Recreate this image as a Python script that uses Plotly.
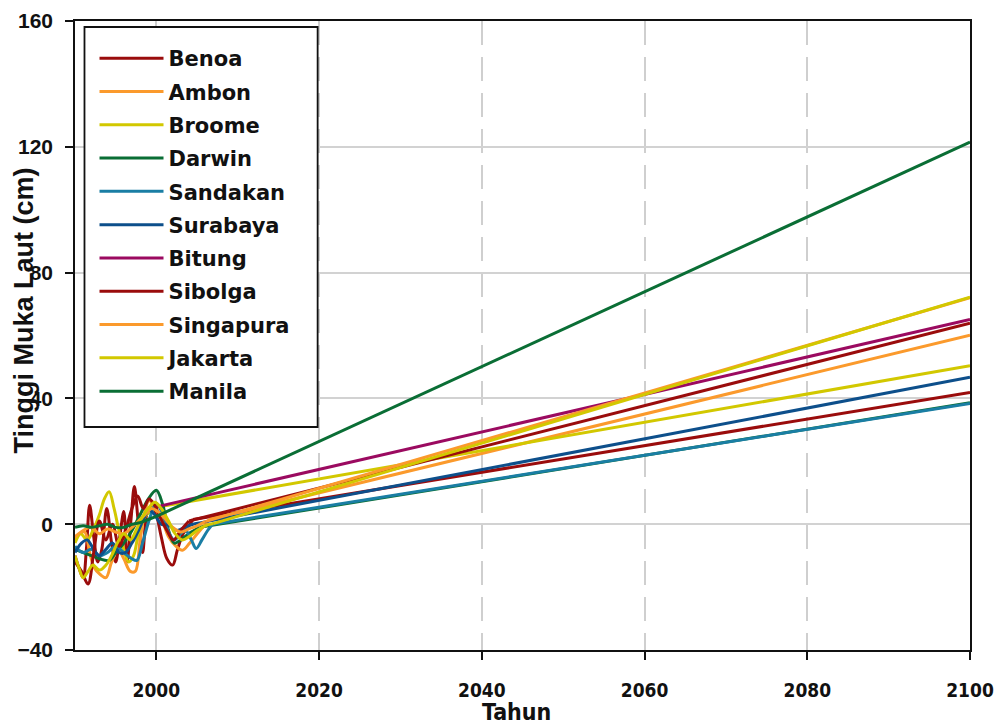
import plotly.graph_objects as go

# Stations, in legend order
stations = ["Benoa", "Ambon", "Broome", "Darwin", "Sandakan", "Surabaya",
            "Bitung", "Sibolga", "Singapura", "Jakarta", "Manila"]
colors = ["#9a0c0c", "#fb9a2c", "#d2c800", "#0a6e35", "#1a7ea4", "#0d4f8b",
          "#9b0a60", "#9a0c0c", "#fb9a2c", "#d2c800", "#0a6e35"]

# Observed sea level anomalies (cm)
benoa_years = [1990.0, 1990.5, 1991.0, 1991.4, 1991.8, 1992.3, 1992.8, 1993.3, 1993.9, 1994.5,
               1995.0, 1995.5, 1996.0, 1996.4, 1996.9, 1997.3, 1997.8, 1998.3, 1998.9, 1999.5,
               2000.0, 2000.6, 2001.3, 2002.0, 2002.6, 2003.3, 2004.0, 2004.5]
benoa_vals = [-10, -14, -17, -8, 6, -4, -12, -8, 5, -6, -12, -4, 4, -12, 2, 12, 0, -9, 4, 6,
              3, -4, -11, -13, -8, -3, -0.5, 1.5]

ambon_years = [1990.0, 1990.6, 1991.2, 1991.8, 1992.4, 1993.1, 1993.8, 1994.5, 1995.3, 1996.0,
               1996.8, 1997.4, 1998.0, 1998.6, 1999.1, 1999.8, 2000.6, 2001.5, 2002.4, 2003.2,
               2004.1, 2005.2, 2006.5]
ambon_vals = [-5, -3, -2.5, -9, -14, -16, -17, -12, -8, -11, -15, -15, -5, 4, 7.5, 5, 2, -4,
              -7, -8.3, -6, -2.5, 1.5]

broome_years = [1990.0, 1990.7, 1991.5, 1992.2, 1993.0, 1993.6, 1994.2, 1994.8, 1995.4, 1996.0,
                1996.6, 1997.2, 1997.8, 1998.5, 1999.2, 2000.0]
broome_vals = [-6, -3, -5, -2, 3, 8, 10.3, 5, -2, -8, -12, -10, -3, 2, 4, 5.4]

darwin_years = [1990.0, 1991.0, 1992.0, 1993.0, 1994.2, 1995.0, 1996.0, 1997.0, 1998.0, 1999.0,
                2000.0, 2000.8, 2001.5, 2002.2, 2003.0, 2004.0, 2005.3]
darwin_vals = [-8, -9, -10, -11, -11.5, -9, -6, -2, 3, 8, 10.8, 6, -2, -6, -5, -3, -1]

sandakan_years = [1990.0, 1991.0, 1992.0, 1993.0, 1994.0, 1995.0, 1996.0, 1997.0, 1997.6, 1998.3,
                  1999.2, 2000.0, 2000.8, 2001.6, 2002.2, 2003.0, 2003.6, 2004.3, 2004.9, 2005.6,
                  2006.3, 2006.9]
sandakan_vals = [-7, -9, -8, -10, -9, -7, -9, -11, -11.5, -6, 2, 6.7, 3, -3, -5, -3, -2, -5,
                 -7.7, -5, -2, 0]

surabaya_years = [1990.0, 1990.8, 1991.5, 1992.3, 1993.0, 1993.8, 1994.6, 1995.4, 1996.2, 1997.0,
                  1997.8, 1998.5, 1999.1, 1999.8, 2000.6, 2001.5, 2002.5, 2003.5, 2004.5, 2005.5]
surabaya_vals = [-9, -6, -5, -8, -10, -8, -6, -9, -9, -6, -2, 2, 4.5, 3, 0, -0.3, -2, -1, 0, 0.5]

bitung_years = [2000.0]
bitung_vals = [5.5]

sibolga_years = [1990.0, 1990.8, 1991.6, 1992.3, 1993.0, 1993.8, 1994.6, 1995.4, 1996.2, 1997.0,
                 1997.7, 1998.4, 1999.1, 1999.8, 2000.5, 2001.3, 2002.1, 2003.0, 2004.0]
sibolga_vals = [-12, -15, -19, -9, 1, -5, 0, -7, -2, 5, 9, 5, 8, 6, 2, -2, -5, -2, 1.0]

singapura_years = [1990.0, 1991.0, 1992.0, 1993.0, 1994.0, 1995.0, 1996.0, 1997.0, 1997.8, 1998.6,
                   1999.4, 2000.2, 2001.0, 2002.0, 2003.0, 2004.0, 2005.0, 2006.0]
singapura_vals = [-4, -2, -1, -3, -1.5, -2.5, -3, -1, 1, 3, 5, 4, 2, -1, -2.5, -1.5, -0.5, 0.8]

jakarta_years = [1990.0, 1990.5, 1991.0, 1991.6, 1992.2, 1993.0, 1993.8, 1994.5, 1995.2, 1996.0,
                 1996.8, 1997.5, 1998.2, 1999.0, 1999.8, 2000.6, 2001.5, 2002.3, 2003.2, 2004.0,
                 2005.0, 2006.0, 2007.0]
jakarta_vals = [-10, -14, -17, -15, -13, -14.6, -13, -10, -6, -3, -5, -2, 2, 5, 7, 5, 1, -3, -5,
                -4, -2, -0.5, 0.2]

manila_years = [1990, 1991, 1992, 1993, 1994, 1995, 1996, 1997, 1998, 1999, 2000]
manila_vals = [-1, -0.5, -1, -0.5, 0, -1, -1, 0, 0.5, 1.5, 2.5]

hist_years = [benoa_years, ambon_years, broome_years, darwin_years, sandakan_years,
              surabaya_years, bitung_years, sibolga_years, singapura_years, jakarta_years,
              manila_years]
hist_vals = [benoa_vals, ambon_vals, broome_vals, darwin_vals, sandakan_vals, surabaya_vals,
             bitung_vals, sibolga_vals, singapura_vals, jakarta_vals, manila_vals]

# Projected level in 2100 (cm)
proj_year = 2100
proj_2100 = [41.9, 60.1, 50.4, 38.6, 38.4, 46.7, 65.1, 63.9, 72.0, 72.2, 121.5]

x_ticks = [2000, 2020, 2040, 2060, 2080, 2100]
y_ticks = [-40, 0, 40, 80, 120, 160]

fig = go.Figure()
for name, col, xs, ys, end in zip(stations, colors, hist_years, hist_vals, proj_2100):
    if len(xs) > 1:
        fig.add_trace(go.Scatter(
            x=xs, y=ys, mode="lines", name=name, legendgroup=name, showlegend=False,
            line=dict(color=col, width=3, shape="spline", smoothing=1.0),
            hoverinfo="skip"))
    fig.add_trace(go.Scatter(
        x=[xs[-1], proj_year], y=[ys[-1], end], mode="lines", name=name,
        legendgroup=name, showlegend=True,
        line=dict(color=col, width=3)))

tick_font = dict(family="Liberation Sans, Arial", size=21, color="#111", weight="bold")
narrow_font = dict(family="Liberation Sans Narrow, DejaVu Sans Condensed, Liberation Sans",
                   size=19, color="#111", weight="bold")

fig.update_layout(
    width=998, height=725,
    margin=dict(l=75, r=28, t=21, b=75),
    paper_bgcolor="white", plot_bgcolor="white",
    showlegend=True,
    legend=dict(
        x=0.0218, y=0.973, xanchor="left", yanchor="top",
        bgcolor="rgba(0,0,0,0)", borderwidth=0,
        font=dict(family="DejaVu Sans", size=21, color="#111", weight="bold"),
        traceorder="grouped", tracegroupgap=3, itemwidth=64,
    ),
    # frame around the legend entries
    shapes=[dict(
        type="rect", xref="paper", yref="paper",
        x0=0.0106, x1=0.2711, y0=0.3545, y1=0.9905,
        line=dict(color="#111", width=1.8), fillcolor="white", layer="above",
    )],
    xaxis=dict(
        range=[1990, 2100], tickvals=x_ticks, tickfont=narrow_font,
        ticks="outside", ticklen=8, tickwidth=1.5, tickcolor="#111",
        ticklabelstandoff=14, automargin=False,
        showline=True, linecolor="#111", linewidth=1.5, mirror=True,
        showgrid=True, gridcolor="#cfcfcf", gridwidth=2, griddash="24px,12px",
        zeroline=False,
    ),
    yaxis=dict(
        range=[-40, 160], tickvals=y_ticks, tickfont=tick_font,
        ticks="outside", ticklen=8, tickwidth=1.5, tickcolor="#111",
        ticklabelstandoff=8, automargin=False,
        showline=True, linecolor="#111", linewidth=1.5, mirror=True,
        showgrid=True, gridcolor="#d2d2d2", gridwidth=2,
        zeroline=False,
    ),
    annotations=[
        dict(text="Tinggi Muka Laut (cm)", xref="paper", yref="paper",
             x=-0.0565, y=0.5405, xanchor="center", yanchor="middle", textangle=-90,
             showarrow=False,
             font=dict(family="Liberation Sans, Arial", size=27, color="#111", weight="bold")),
        dict(text="Tahun", xref="paper", yref="paper",
             x=0.4936, y=-0.0986, xanchor="center", yanchor="middle", showarrow=False,
             font=dict(family=narrow_font["family"], size=23, color="#111", weight="bold")),
    ],
)

fig.write_html("out.html")
